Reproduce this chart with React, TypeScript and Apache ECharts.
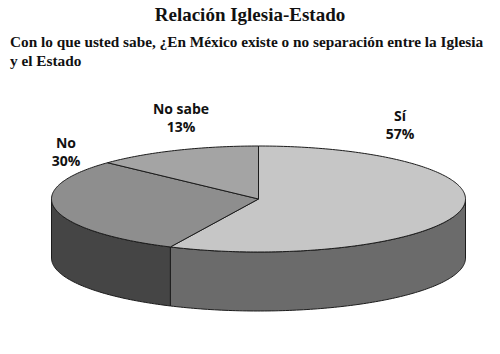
import React, { useEffect, useRef } from "react";
import * as echarts from "echarts";

const categories = ["Sí", "No", "No sabe"];
const values = [57, 30, 13];
const topColors = ["#c6c6c6", "#8e8e8e", "#a4a4a4"];
const wallColors = ["#6b6b6b", "#454545", "#5a5a5a"];
const labelAnchors = [
  [400, 124],
  [66, 151],
  [181, 117],
];

const CX = 258.5;
const CY = 199;
const RX = 207;
const RY = 53;
const DEPTH = 59;

function pt(deg: number, dy = 0): number[] {
  const r = (deg * Math.PI) / 180;
  return [CX + RX * Math.sin(r), CY - RY * Math.cos(r) + dy];
}

function arc(a0: number, a1: number, dy = 0): number[][] {
  const pts: number[][] = [];
  const n = Math.max(2, Math.ceil(Math.abs(a1 - a0) / 1));
  for (let i = 0; i <= n; i++) pts.push(pt(a0 + ((a1 - a0) * i) / n, dy));
  return pts;
}

export default function App() {
  const ref = useRef<HTMLDivElement>(null);
  useEffect(() => {
    document.body.style.margin = "0";
    const chart = echarts.init(ref.current!, null, { renderer: "svg" });
    const total = values.reduce((a, b) => a + b, 0);
    const starts: number[] = [];
    let acc = 0;
    values.forEach((v) => {
      starts.push((acc / total) * 360);
      acc += v;
    });
    const stroke = "#1c1c1c";
    const subStyle = {
      fontFamily: "Liberation Serif",
      fontWeight: "bold",
      fontSize: 15.3,
      color: "#111",
    };
    chart.setOption({
      animation: false,
      backgroundColor: "#ffffff",
      title: [
        {
          text: "Relación Iglesia-Estado",
          left: "center",
          top: 0,
          textStyle: {
            fontFamily: "Liberation Serif",
            fontWeight: "bold",
            fontSize: 19,
            color: "#111",
          },
        },
        {
          text: "Con lo que usted sabe, ¿En México existe o no separación entre la Iglesia",
          left: 5,
          top: 29,
          textStyle: subStyle,
        },
        {
          text: "y el Estado",
          left: 5,
          top: 48,
          textStyle: subStyle,
        },
      ],
      series: [
        {
          type: "custom",
          coordinateSystem: "none",
          data: categories.map((c, i) => ({ name: c, value: values[i] })),
          renderItem: (params: any, api: any) => {
            const i = params.dataIndex;
            const v = api.value(0);
            const a0 = starts[i];
            const a1 = a0 + (v / total) * 360;
            const children: any[] = [];
            const f0 = Math.max(a0, 90);
            const f1 = Math.min(a1, 270);
            if (f1 > f0) {
              const top = arc(f0, f1);
              const bot = arc(f0, f1, DEPTH).reverse();
              children.push({
                type: "polygon",
                shape: { points: top.concat(bot) },
                style: { fill: wallColors[i], stroke, lineWidth: 1 },
                z2: 1,
              });
            }
            const sector = [[CX, CY]].concat(arc(a0, a1));
            children.push({
              type: "polygon",
              shape: { points: sector },
              style: { fill: topColors[i], stroke, lineWidth: 1 },
              z2: 2,
            });
            const pct = Math.round((v / total) * 100);
            const ls = {
              align: "center",
              verticalAlign: "middle",
              fontFamily: "Open Sans",
              fontWeight: "bold",
              fontSize: 14,
              fill: "#111",
            };
            children.push({
              type: "text",
              x: labelAnchors[i][0],
              y: labelAnchors[i][1] - 9,
              style: { ...ls, text: categories[i] },
              z2: 3,
            });
            children.push({
              type: "text",
              x: labelAnchors[i][0],
              y: labelAnchors[i][1] + 9,
              style: { ...ls, text: `${pct}%` },
              z2: 3,
            });
            return { type: "group", children };
          },
        },
      ],
    });
    return () => chart.dispose();
  }, []);
  return <div ref={ref} style={{ width: 500, height: 354 }} />;
}
